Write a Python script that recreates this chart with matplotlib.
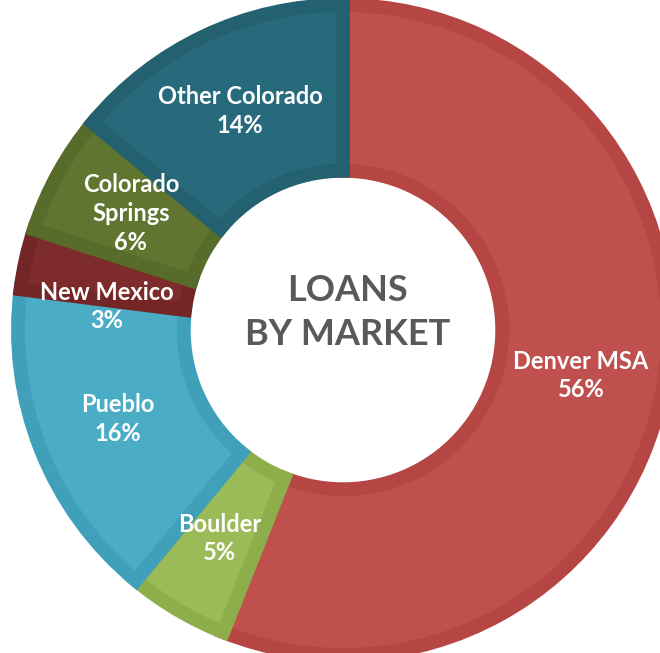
import numpy as np
import matplotlib.pyplot as plt

# data
markets = ["Denver MSA", "Boulder", "Pueblo", "New Mexico", "Colorado\nSprings", "Other Colorado"]
shares = [56, 5, 16, 3, 6, 14]
fills = ["#C0504D", "#9BBB59", "#4BACC6", "#7E2B2B", "#607630", "#276A7C"]
bands = ["#B54643", "#8DAE4A", "#40A0BA", "#742525", "#576B2A", "#236070"]

fig = plt.figure(figsize=(6.6, 6.53), dpi=100)
ax = fig.add_axes([0, 0, 1, 1])

wedges, _ = ax.pie(shares, colors=fills, startangle=90, counterclock=False,
                   radius=1.0, wedgeprops=dict(width=0.51, linewidth=10))

# darker inner band along each slice edge (stroke clipped to the slice)
for w, c in zip(wedges, bands):
    w.set_edgecolor(c)
    w.set_clip_path(w)

# labels in the middle of the ring
label_r = 0.745
nudge = {3: (0.0, -0.09)}
for i, (w, name, v) in enumerate(zip(wedges, markets, shares)):
    ang = np.deg2rad((w.theta1 + w.theta2) / 2)
    x = label_r * np.cos(ang)
    y = label_r * np.sin(ang)
    dx, dy = nudge.get(i, (0, 0))
    ax.text(x + dx, y + dy, f"{name}\n{v}%", ha="center", va="center",
            color="white", fontsize=17, fontweight="bold", family="Lato",
            linespacing=1.3)

ax.text(0.013, 0.053, "LOANS\nBY MARKET", ha="center", va="center",
        color="#595959", fontsize=26, fontweight="bold", family="Lato",
        linespacing=1.4)

# center at (343, 330) px, radius 325 px
ax.set_xlim(-343 / 325, (660 - 343) / 325)
ax.set_ylim(-(653 - 330) / 325, 330 / 325)
ax.set_aspect("auto")
ax.axis("off")

fig.savefig("out.png", dpi=100)
